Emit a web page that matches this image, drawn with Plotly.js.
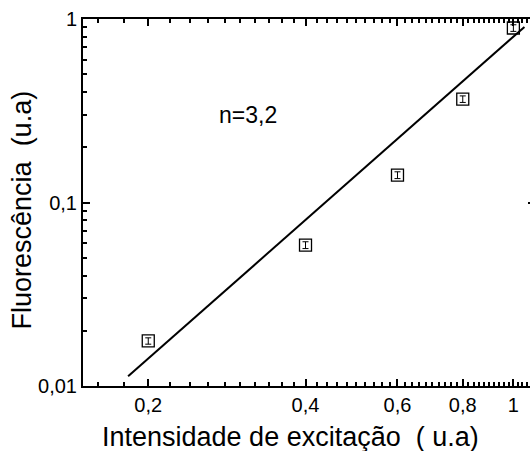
<!DOCTYPE html>
<html>
<head>
<meta charset="utf-8">
<script src="https://cdn.plot.ly/plotly-3.0.1.min.js"></script>
<style>
  html, body { margin: 0; padding: 0; overflow: hidden; background: #fff; }
</style>
</head>
<body>
<div id="plot"></div>
<script>
// measured points
const intensity = [0.2, 0.4, 0.6, 0.8, 1.0];
const fluorescence = [0.0176, 0.0586, 0.141, 0.366, 0.893];
const fluorescenceErr = [0.0007, 0.0025, 0.006, 0.015, 0.037];

// fitted line ends
const fitX = [0.183, 1.05];
const fitY = [0.0113, 0.905];

// ticks
const xTickVals = [0.2, 0.4, 0.6, 0.8, 1];
const xTickText = ["0,2", "0,4", "0,6", "0,8", "1"];
const xMinorVals = [0.16, 0.18, 0.22, 0.24, 0.26, 0.28, 0.3, 0.32, 0.34, 0.36, 0.38,
  0.42, 0.44, 0.46, 0.48, 0.5, 0.52, 0.54, 0.56, 0.58,
  0.62, 0.64, 0.66, 0.68, 0.7, 0.72, 0.74, 0.76, 0.78,
  0.82, 0.84, 0.86, 0.88, 0.9, 0.92, 0.94, 0.96, 0.98, 1.02, 1.04, 1.06, 1.08];
const yTickVals = [0.01, 0.1, 1];
const yTickText = ["0,01", "0,1", "1"];
const yMinorVals = [0.02, 0.03, 0.04, 0.05, 0.06, 0.07, 0.08, 0.09,
  0.2, 0.3, 0.4, 0.5, 0.6, 0.7, 0.8, 0.9];

const fontFamily = "Liberation Sans, Arial, sans-serif";

function axisStyle(tickVals, tickText, minorVals) {
  return {
    type: "log",
    showline: true,
    linewidth: 2,
    linecolor: "#000",
    mirror: "allticks",
    ticks: "inside",
    ticklen: 7,
    tickwidth: 2,
    tickcolor: "#000",
    tickmode: "array",
    tickvals: tickVals,
    ticktext: tickText,
    tickfont: { size: 20 },
    minor: {
      tickmode: "array",
      tickvals: minorVals,
      ticks: "inside",
      ticklen: 4,
      tickwidth: 2,
      tickcolor: "#000",
      showgrid: false,
    },
    showgrid: false,
    zeroline: false,
  };
}

function plotGraph() {
  const fit = {
      x: fitX,
      y: fitY,
      mode: "lines",
      line: { color: "#000", width: 2 },
      showlegend: false,
    },
    points = {
      x: intensity,
      y: fluorescence,
      mode: "markers",
      marker: {
        symbol: "square-open",
        size: 12,
        color: "#000",
        line: { color: "#000", width: 1.3 },
      },
      error_y: {
        type: "data",
        array: fluorescenceErr,
        color: "#000",
        thickness: 1,
        width: 3,
      },
      showlegend: false,
    };

  const xaxis = axisStyle(xTickVals, xTickText, xMinorVals);
  xaxis.range = [Math.log10(0.15), Math.log10(1.1)];

  const yaxis = axisStyle(yTickVals, yTickText, yMinorVals);
  yaxis.range = [-2, 0];

  const layout = {
    width: 540,
    height: 451,
    margin: { l: 83, r: 5, t: 19, b: 65 },
    paper_bgcolor: "#fff",
    plot_bgcolor: "#fff",
    font: { family: fontFamily, color: "#000" },
    xaxis: xaxis,
    yaxis: yaxis,
    annotations: [
      {
        text: "n=3,2",
        xref: "paper",
        yref: "paper",
        x: 0.365,
        y: 0.738,
        xanchor: "center",
        yanchor: "middle",
        showarrow: false,
        font: { size: 23 },
      },
      // axis titles as annotations so they sit where the original has them
      {
        text: "Intensidade de excitação\u00a0\u00a0( u.a)",
        xref: "paper",
        yref: "paper",
        x: 0.458,
        y: -0.139,
        xanchor: "center",
        yanchor: "middle",
        showarrow: false,
        font: { size: 27 },
      },
      {
        text: "Fluorescência\u00a0\u00a0(u.a)",
        xref: "paper",
        yref: "paper",
        x: -0.135,
        y: 0.481,
        xanchor: "center",
        yanchor: "middle",
        textangle: -90,
        showarrow: false,
        font: { size: 27 },
      },
    ],
  };

  Plotly.newPlot("plot", [fit, points], layout, { displayModeBar: false });
}

plotGraph();
</script>
</body>
</html>
